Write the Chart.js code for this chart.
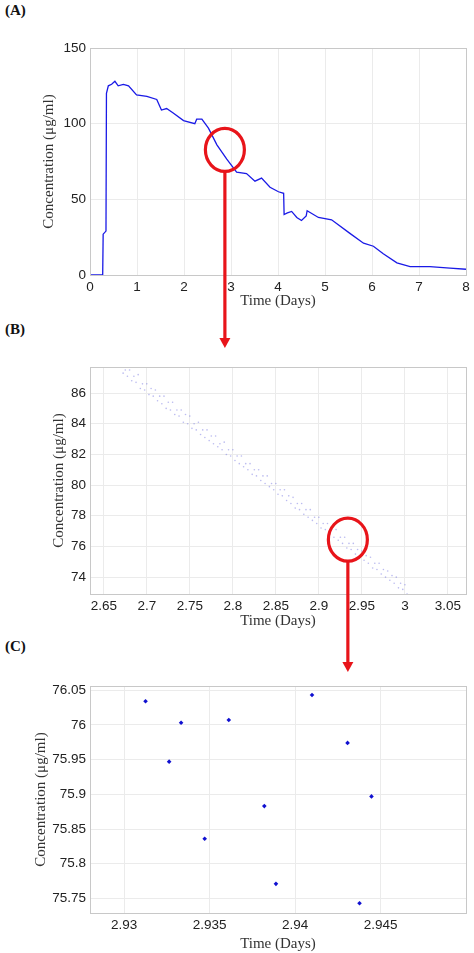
<!DOCTYPE html>
<html><head><meta charset="utf-8">
<script src="https://cdn.jsdelivr.net/npm/chart.js@4"></script>
<style>
body{margin:0;background:#fff;width:474px;height:953px;position:relative;overflow:hidden}
.box{position:absolute;left:0;width:474px}
.lbl{position:absolute;left:5px;font:bold 15px "Liberation Serif",serif;color:#111}
#ov{position:absolute;left:0;top:0;pointer-events:none}
</style></head><body>
<div class="lbl" style="top:2px">(A)</div>
<div class="lbl" style="top:321px">(B)</div>
<div class="lbl" style="top:638px">(C)</div>
<div class="box" style="top:0;height:310px"><canvas id="a"></canvas></div>
<div class="box" style="top:330px;height:300px"><canvas id="b"></canvas></div>
<div class="box" style="top:640px;height:313px"><canvas id="c"></canvas></div>
<canvas id="ov" width="474" height="953"></canvas>
<script>
// Panel A: full concentration trace
const timeA=[0,0.27,0.28,0.34,0.35,0.39,0.46,0.53,0.6,0.71,0.82,0.99,1.21,1.42,1.52,1.63,1.77,1.99,2.23,2.27,2.38,2.52,2.7,2.91,3.12,3.33,3.51,3.65,3.83,4.01,4.12,4.13,4.2,4.29,4.4,4.5,4.6,4.62,4.86,5.14,5.53,5.82,6.03,6.24,6.53,6.81,7.23,7.66,8];
const concA=[0,0,27,29,120,125,126,128,125,126,125,119,118,116,109,110,107,102,100,103,103,97,86,76.5,68,67,62,64,58,55,54,40,41,42,38,36,39,42.5,38,36.5,27.5,21,19,14,8,5.5,5.5,4.5,3.8];
const ticksAx=[0,1,2,3,4,5,6,7,8], ticksAy=[0,50,100,150];
// Panel B: zoom 2.65-3.05 days
const timeB=[2.670,2.675,2.680,2.685,2.690,2.695,2.700,2.705,2.710,2.715,2.720,2.725,2.730,2.735,2.740,2.745,2.750,2.755,2.760,2.765,2.770,2.775,2.780,2.785,2.790,2.795,2.800,2.805,2.810,2.815,2.820,2.825,2.830,2.835,2.840,2.845,2.850,2.855,2.860,2.865,2.870,2.875,2.880,2.885,2.890,2.895,2.900,2.905,2.910,2.915,2.920,2.925,2.930,2.935,2.940,2.945,2.950,2.955,2.960,2.965,2.970,2.975,2.980,2.985,2.990,2.995,3.000];
const concB1=[87.8,87.5,87.5,87.1,87.2,86.6,86.6,86.3,86.2,85.8,85.8,85.4,85.4,84.9,84.9,84.6,84.5,84.0,84.1,83.6,83.6,83.2,83.2,82.7,82.8,82.3,82.3,81.9,81.9,81.4,81.4,81.0,81.0,80.6,80.6,80.1,80.1,79.7,79.7,79.3,79.2,78.8,78.8,78.4,78.4,77.9,77.9,77.5,77.5,77.1,77.1,76.6,76.6,76.2,76.2,75.8,75.7,75.4,75.3,74.9,74.9,74.5,74.4,74.1,74.0,73.6,73.5];
const concB2=[87.3,87.1,86.8,86.7,86.3,86.2,85.9,85.8,85.5,85.3,85.0,84.9,84.6,84.5,84.1,84.0,83.7,83.6,83.3,83.1,82.9,82.7,82.5,82.3,82.0,81.9,81.6,81.4,81.2,81.0,80.7,80.6,80.3,80.1,79.9,79.7,79.4,79.3,79.0,78.8,78.5,78.4,78.1,77.9,77.7,77.5,77.2,77.1,76.8,76.6,76.4,76.2,75.9,75.8,75.5,75.3,75.1,74.9,74.6,74.5,74.2,74.0,73.8,73.6,73.3,73.2,72.9];
const ticksBx=[2.65,2.7,2.75,2.8,2.85,2.9,2.95,3,3.05], ticksBy=[74,76,78,80,82,84,86];
// Panel C: individual samples
const timeC=[2.93125,2.93263,2.93333,2.93471,2.93612,2.9382,2.93888,2.94099,2.94307,2.94377,2.94447];
const concC=[76.034,75.947,76.003,75.836,76.007,75.883,75.771,76.043,75.974,75.743,75.897];
const ticksCx=[2.93,2.935,2.94,2.945], ticksCy=[75.75,75.8,75.85,75.9,75.95,76,76.05];

const tickFont={family:'"Liberation Sans",Arial,sans-serif',size:13.5};
const titleFont={family:'"Liberation Serif",serif',size:15};
const grid={color:'#ebebeb',drawTicks:false};
const boxPlugin={id:'box',afterDraw(c){const a=c.chartArea,x=c.ctx;x.save();x.strokeStyle='#c8c8c8';x.lineWidth=1;x.strokeRect(a.left+0.5,a.top+0.5,a.right-a.left,a.bottom-a.top);x.restore();}};
function mk(id,datasets,xr,yr,tx,ty,padTop,xh,lp){
  return new Chart(document.getElementById(id),{type:'scatter',data:{datasets},
   options:{responsive:true,maintainAspectRatio:false,animation:false,
    layout:{padding:{top:padTop,right:8,left:lp,bottom:0}},
    plugins:{legend:{display:false},tooltip:{enabled:false}},
    scales:{
     x:{type:'linear',min:xr[0],max:xr[1],grid,border:{display:false},
        afterBuildTicks:s=>{s.ticks=tx.map(v=>({value:v}))},afterFit:s=>{s.height=xh},
        ticks:{font:tickFont,color:'#222',padding:4,maxRotation:0,autoSkip:false,callback:v=>String(+v.toFixed(4))},
        title:{display:true,text:'Time (Days)',font:titleFont,color:'#333',padding:{top:-4,bottom:0}}},
     y:{type:'linear',min:yr[0],max:yr[1],grid,border:{display:false},
        afterBuildTicks:s=>{s.ticks=ty.map(v=>({value:v}))},afterFit:s=>{s.width=90-lp},
        ticks:{font:tickFont,color:'#222',padding:4,autoSkip:false,callback:v=>String(+v.toFixed(4))},
        title:{display:true,text:'Concentration (μg/ml)',font:titleFont,color:'#333',padding:{top:0,bottom:2}}}}},
   plugins:[boxPlugin]});
}
const A=mk('a',[{data:timeA.map((t,i)=>({x:t,y:concA[i]})),showLine:true,borderColor:'#1a1ae6',borderWidth:1.3,pointRadius:0}],[0,8],[0,150],ticksAx,ticksAy,48,35,40);
const bpts=timeB.map((t,i)=>({x:t,y:concB1[i]})).concat(timeB.map((t,i)=>({x:t+0.0025,y:concB2[i]})));
const B=mk('b',[{data:bpts,backgroundColor:'rgba(120,120,225,0.5)',borderWidth:0,pointRadius:0.8}],[2.634,3.071],[72.9,87.7],ticksBx,ticksBy,37,36,50);
const C=mk('c',[{data:timeC.map((t,i)=>({x:t,y:concC[i]})),backgroundColor:'#1010d0',borderWidth:0,pointRadius:2.3,pointStyle:'rectRot'}],[2.928,2.95],[75.729,76.056],ticksCx,ticksCy,46,40,32);

// annotations: zoom circles and arrows
const o=document.getElementById('ov').getContext('2d');
o.strokeStyle='#e8141a';o.fillStyle='#e8141a';o.lineWidth=3.2;
function circ(ch,top,x,y){const cx=ch.scales.x.getPixelForValue(x),cy=ch.scales.y.getPixelForValue(y)+top;o.beginPath();o.ellipse(cx,cy,19.5,21.5,0,0,Math.PI*2);o.stroke();return [cx,cy+21.5];}
function arrow(x,y1,y2){o.beginPath();o.moveTo(x,y1);o.lineTo(x,y2-9);o.stroke();o.beginPath();o.moveTo(x-5.5,y2-10);o.lineTo(x+5.5,y2-10);o.lineTo(x,y2);o.closePath();o.fill();}
let p=circ(A,0,2.87,82.7);arrow(p[0],p[1],348);
p=circ(B,330,2.9337,76.44);arrow(p[0],p[1],672);
</script></body></html>
